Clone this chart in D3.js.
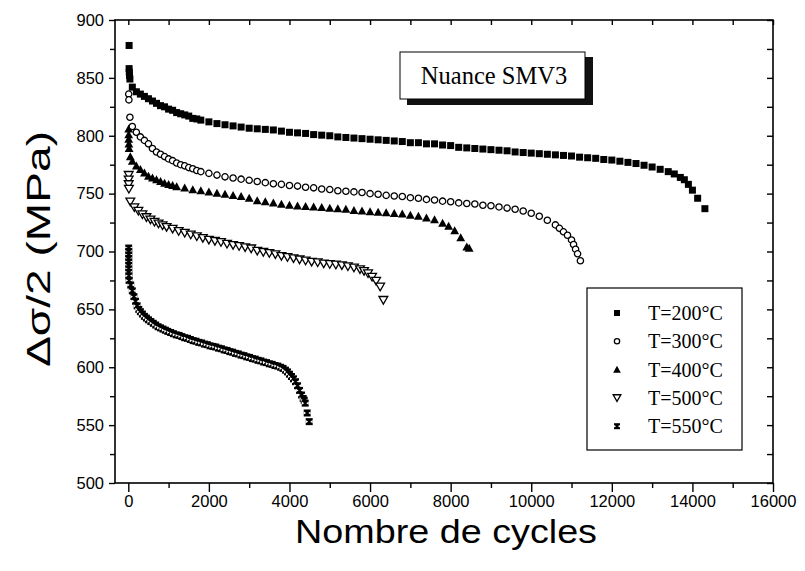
<!DOCTYPE html>
<html><head><meta charset="utf-8">
<script src="https://cdn.jsdelivr.net/npm/d3@7"></script>
<style>html,body{margin:0;padding:0;background:#fff;}svg{display:block;}</style>
</head><body><svg id="c" width="805" height="571"></svg>
<script>
const xTickValues = [0,2000,4000,6000,8000,10000,12000,14000,16000];
const yTickValues = [500,550,600,650,700,750,800,850,900];
const legendLabels = ["T=200°C","T=300°C","T=400°C","T=500°C","T=550°C"];
const titleText = "Nuance SMV3";
const xTitle = "Nombre de cycles";
const yTitle = "Δσ/2 (MPa)";

const s200 = [[20,878],[20,858],[25,855],[30,852],[40,849],[100,842],[200,838],[300,836],[400,834],[500,832],[600,830],[700,828],[800,826],[900,825],[1000,823],[1100,822],[1200,820],[1300,819],[1400,818],[1500,817],[1600,815],[1700,814.5],[1800,813.5],[2000,812],[2200,810.5],[2400,809.5],[2600,808.5],[2800,807.5],[3000,806.5],[3200,806],[3400,805.5],[3600,805],[3800,804],[4000,803],[4200,802.5],[4400,802],[4600,801],[4800,800.5],[5000,800],[5200,799],[5400,798.5],[5600,798],[5800,797.5],[6000,797],[6200,796.5],[6400,796],[6600,795.5],[6800,795],[7000,794],[7200,794],[7400,793],[7600,793],[7800,792],[8000,791.5],[8200,790],[8400,789.5],[8600,789],[8800,788.5],[9000,788],[9200,787.5],[9400,787],[9600,786],[9800,785.5],[10000,785],[10200,784.5],[10400,784],[10600,783.5],[10800,783],[11000,782.5],[11200,781.5],[11400,781],[11600,780.5],[11800,779.5],[12000,779],[12200,778],[12400,777],[12600,776],[12800,774.5],[13000,773],[13200,771],[13400,769],[13550,767],[13700,764],[13800,762],[13900,758],[14000,753],[14130,746],[14310,737]];
const s300 = [[10,836],[15,831],[40,816],[100,808],[200,803],[300,799],[400,796],[500,793],[600,789],[700,786],[800,784],[900,782],[1000,780],[1100,778.5],[1200,776.5],[1300,775],[1400,774],[1500,772.5],[1600,771.5],[1700,770],[1800,769],[2000,767.5],[2200,766],[2400,764.5],[2600,763.5],[2800,762.5],[3000,761.5],[3200,760.5],[3400,759.5],[3600,758.5],[3800,758],[4000,757],[4200,756.5],[4400,755.5],[4600,755],[4800,754],[5000,753.5],[5200,752.5],[5400,752],[5600,751.5],[5800,751],[6000,750],[6200,749.5],[6400,748.5],[6600,748],[6800,747.5],[7000,746.5],[7200,746],[7400,745],[7600,744.5],[7800,743.5],[8000,743],[8200,742],[8400,741.5],[8600,741],[8800,740],[9000,739.5],[9200,738.5],[9400,737.5],[9600,736.5],[9800,735],[10000,733],[10200,730.5],[10400,727],[10600,723],[10700,720],[10800,717],[10900,714],[11000,710],[11050,706],[11100,702],[11150,698],[11220,692]];
const s400 = [[10,806],[10,801],[10,797],[15,793],[20,789],[50,782],[100,778],[200,774],[300,771],[400,768],[500,765],[600,763.5],[700,762],[800,760.5],[900,759],[1000,758],[1100,757],[1200,756],[1400,755],[1600,753.5],[1800,752.5],[2000,751.5],[2200,750.5],[2400,749.5],[2600,748.5],[2800,747.5],[3000,746],[3200,744],[3400,743],[3600,742],[3800,741],[4000,740],[4200,739.5],[4400,739],[4600,738.5],[4800,738],[5000,737.5],[5200,737],[5400,736.5],[5600,735.5],[5800,735],[6000,734.5],[6200,734],[6400,733.5],[6600,733],[6800,732.5],[7000,731.5],[7200,730.5],[7400,729],[7600,727.5],[7800,724.5],[7950,722],[8100,718],[8250,712],[8400,704],[8460,703]];
const s500 = [[10,766],[10,762],[10,758],[15,754],[50,743],[150,738],[250,735],[350,732],[450,729.5],[550,727.5],[650,725.5],[750,724],[850,722.5],[950,721],[1100,719.5],[1250,717.5],[1400,716],[1550,714.5],[1700,713],[1850,711.5],[2000,710],[2150,709],[2300,708],[2450,706.5],[2600,705.5],[2750,704.5],[2900,703.5],[3050,702.5],[3200,700.5],[3350,699.5],[3500,698.5],[3650,697.5],[3800,696],[3950,695],[4100,694],[4250,693],[4400,692],[4550,691],[4700,690.5],[4850,689.5],[5000,689],[5150,688.5],[5300,688],[5450,687],[5600,686],[5750,684.5],[5850,683],[5950,681],[6050,678],[6150,674.5],[6250,669.5],[6330,658]];
const s550 = [[10,703],[10,700],[10,697],[10,694],[10,691],[10,688],[10,685],[10,682],[15,679],[20,675],[60,671],[100,666],[140,661],[180,657],[220,653],[260,650],[300,648],[350,646],[400,644],[450,642.5],[500,641],[560,639.5],[620,638],[680,636.5],[740,635],[800,634],[860,633],[920,632],[980,631],[1050,630],[1120,629],[1190,628],[1260,627.5],[1330,626.5],[1400,625.5],[1470,625],[1540,624],[1610,623],[1680,622.5],[1750,621.5],[1820,621],[1890,620],[1960,619.5],[2030,618.5],[2100,618],[2170,617.5],[2240,616.5],[2310,616],[2380,615],[2450,614.5],[2520,613.5],[2590,613],[2660,612],[2730,611.5],[2800,610.5],[2870,610],[2940,609],[3010,608.5],[3080,607.5],[3150,607],[3220,606],[3290,605.5],[3360,604.5],[3430,604],[3500,603],[3570,602.5],[3640,601.5],[3710,601],[3780,600],[3840,599],[3900,597.5],[3950,596],[4000,594],[4050,592],[4100,590],[4150,587.5],[4200,584],[4250,580],[4300,576],[4340,573],[4366,571.5],[4391,569],[4440,560.5],[4490,553]];

const L = 115, R = 773, T = 20, B = 483;
const svg = d3.select("#c");
const x = d3.scaleLinear().domain([-330,16000]).range([L,R]);
const y = d3.scaleLinear().domain([500,900]).range([B,T]);
const sans = "Liberation Sans, Arial, sans-serif";
const serif = "Liberation Serif, Times New Roman, serif";

svg.append("rect").attr("x",L).attr("y",T).attr("width",R-L).attr("height",B-T)
  .attr("fill","none").attr("stroke","#000").attr("stroke-width",1.6);

const tickStyle = g => { g.select(".domain").remove(); g.selectAll("line").attr("stroke","#000").attr("stroke-width",1.4); };
const xMinor = d3.range(1000,16000,2000);
const yMinor = d3.range(525,900,50);
svg.append("g").attr("transform",`translate(0,${B})`)
  .call(d3.axisBottom(x).tickValues(xTickValues).tickSize(9).tickFormat(d3.format("d")))
  .call(tickStyle)
  .call(g=>g.selectAll("text").attr("font-family",sans).attr("font-size","16.5px").attr("fill","#000").attr("y",12));
svg.append("g").attr("transform",`translate(0,${B})`)
  .call(d3.axisBottom(x).tickValues(xMinor).tickSize(5).tickFormat(""))
  .call(tickStyle);
svg.append("g").attr("transform",`translate(0,${T})`)
  .call(d3.axisBottom(x).tickValues(xTickValues.concat(xMinor)).tickSize(5).tickFormat(""))
  .call(tickStyle);
svg.append("g").attr("transform",`translate(${L},0)`)
  .call(d3.axisLeft(y).tickValues(yTickValues).tickSize(6).tickPadding(5))
  .call(tickStyle)
  .call(g=>g.selectAll("text").attr("font-family",sans).attr("font-size","16.5px").attr("fill","#000"));
svg.append("g").attr("transform",`translate(${L},0)`)
  .call(d3.axisLeft(y).tickValues(yMinor).tickSize(5).tickFormat(""))
  .call(tickStyle);
svg.append("g").attr("transform",`translate(${R},0)`)
  .call(d3.axisLeft(y).tickValues(yTickValues.concat(yMinor)).tickSize(6).tickFormat(""))
  .call(tickStyle);

svg.append("text").attr("x",446).attr("y",543).attr("text-anchor","middle")
  .attr("font-family",sans).attr("font-size","34px").attr("textLength",302).attr("lengthAdjust","spacingAndGlyphs").text(xTitle);
svg.append("text").attr("transform","translate(50,249) rotate(-90)").attr("text-anchor","middle")
  .attr("font-family",sans).attr("font-size","34px").attr("textLength",236).attr("lengthAdjust","spacingAndGlyphs").text(yTitle);

const markers = {
  square: (g,s)=>g.append("rect").attr("x",-s/2).attr("y",-s/2).attr("width",s).attr("height",s).attr("fill","#000"),
  circle: (g,s)=>g.append("circle").attr("r",s/2-0.6).attr("fill","#fff").attr("stroke","#000").attr("stroke-width",1.3),
  tri: (g,s)=>g.append("path").attr("d",`M0,${-s*0.55}L${s*0.55},${s*0.45}L${-s*0.55},${s*0.45}Z`).attr("fill","#000"),
  dtri: (g,s)=>g.append("path").attr("d",`M0,${s*0.5}L${s*0.55},${-s*0.45}L${-s*0.55},${-s*0.45}Z`).attr("fill","#fff").attr("stroke","#000").attr("stroke-width",1.3),
  bow: (g,s)=>{g.append("rect").attr("x",-s/2).attr("y",-s/2).attr("width",s).attr("height",s).attr("fill","#000");
    g.append("path").attr("d",`M${-s/2},${-s*0.22}L${-s*0.15},0L${-s/2},${s*0.22}ZM${s/2},${-s*0.22}L${s*0.15},0L${s/2},${s*0.22}Z`).attr("fill","#fff");}
};
const series = [
  {data:s550, m:"bow", s:7},
  {data:s500, m:"dtri", s:8},
  {data:s400, m:"tri", s:8},
  {data:s300, m:"circle", s:7.5},
  {data:s200, m:"square", s:7}
];
series.forEach(sr=>{
  const g = svg.append("g");
  sr.data.forEach(d=>{
    const p = g.append("g").attr("transform",`translate(${x(d[0])},${y(d[1])})`);
    markers[sr.m](p,sr.s);
  });
});

svg.append("rect").attr("x",407).attr("y",57).attr("width",186).attr("height",48).attr("fill","#111");
svg.append("rect").attr("x",400).attr("y",52).attr("width",185).attr("height",47).attr("fill","#fff").attr("stroke","#000").attr("stroke-width",1);
svg.append("text").attr("x",494).attr("y",84).attr("text-anchor","middle")
  .attr("font-family",serif).attr("font-size","24.5px").text(titleText);

svg.append("rect").attr("x",587).attr("y",288).attr("width",155).attr("height",162).attr("fill","#fff").attr("stroke","#000").attr("stroke-width",1.2);
const legM = ["square","circle","tri","dtri","bow"];
const legS = [6,6.5,7,7,6];
legendLabels.forEach((t,i)=>{
  const yy = 313 + i*28.3;
  const p = svg.append("g").attr("transform",`translate(617,${yy})`);
  markers[legM[i]](p,legS[i]);
  svg.append("text").attr("x",648).attr("y",yy+7).attr("font-family",serif).attr("font-size","20px").text(t);
});
</script></body></html>
